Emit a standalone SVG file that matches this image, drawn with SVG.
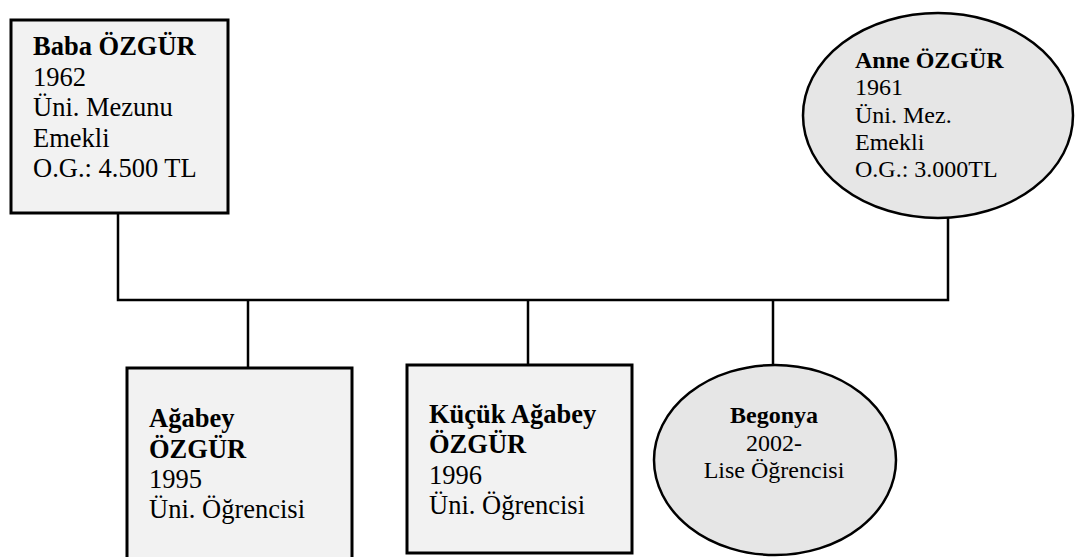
<svg xmlns="http://www.w3.org/2000/svg" width="1075" height="557" viewBox="0 0 1075 557">
<style>
.box{fill:#f2f2f2;stroke:#000;stroke-width:3}
.oval{fill:#e6e6e6;stroke:#000;stroke-width:2.5}
.ln{fill:none;stroke:#000;stroke-width:2.5}
text{font-family:"Liberation Serif","Times New Roman",serif;fill:#000}
.t1{font-size:26.5px}
.t2{font-size:24px}
.b{font-weight:bold}
</style>
<rect width="1075" height="557" fill="#fff"/>
<g id="connectors">
<polyline class="ln" points="118,213 118,300 948,300 948,217"/>
<line class="ln" x1="248" y1="300" x2="248" y2="368"/>
<line class="ln" x1="528" y1="300" x2="528" y2="365"/>
<line class="ln" x1="773" y1="300" x2="773" y2="365"/>
</g>
<g id="baba">
<rect class="box" x="11" y="20" width="217" height="193"/>
<text class="t1" x="33"><tspan class="b" x="33" y="55">Baba ÖZGÜR</tspan><tspan x="33" y="85.5">1962</tspan><tspan x="33" y="116">Üni. Mezunu</tspan><tspan x="33" y="146.5">Emekli</tspan><tspan x="33" y="177">O.G.: 4.500 TL</tspan></text>
</g>
<g id="anne">
<ellipse class="oval" cx="938" cy="115.5" rx="135" ry="102.5"/>
<text class="t2"><tspan class="b" x="855" y="68">Anne ÖZGÜR</tspan><tspan x="855" y="95">1961</tspan><tspan x="855" y="122.5">Üni. Mez.</tspan><tspan x="855" y="149.5">Emekli</tspan><tspan x="855" y="177">O.G.: 3.000TL</tspan></text>
</g>
<g id="agabey">
<rect class="box" x="127" y="368" width="225" height="200"/>
<text class="t1"><tspan class="b" x="149" y="427">Ağabey</tspan><tspan class="b" x="149" y="457.5">ÖZGÜR</tspan><tspan x="149" y="487.5">1995</tspan><tspan x="149" y="518">Üni. Öğrencisi</tspan></text>
</g>
<g id="kucuk-agabey">
<rect class="box" x="407" y="365" width="225" height="188"/>
<text class="t1"><tspan class="b" x="429" y="423">Küçük Ağabey</tspan><tspan class="b" x="429" y="453">ÖZGÜR</tspan><tspan x="429" y="483.5">1996</tspan><tspan x="429" y="514">Üni. Öğrencisi</tspan></text>
</g>
<g id="begonya">
<ellipse class="oval" cx="775" cy="460" rx="121" ry="95"/>
<text class="t2" text-anchor="middle"><tspan class="b" x="774" y="423">Begonya</tspan><tspan x="774" y="451">2002-</tspan><tspan x="774" y="478">Lise Öğrencisi</tspan></text>
</g>
</svg>
